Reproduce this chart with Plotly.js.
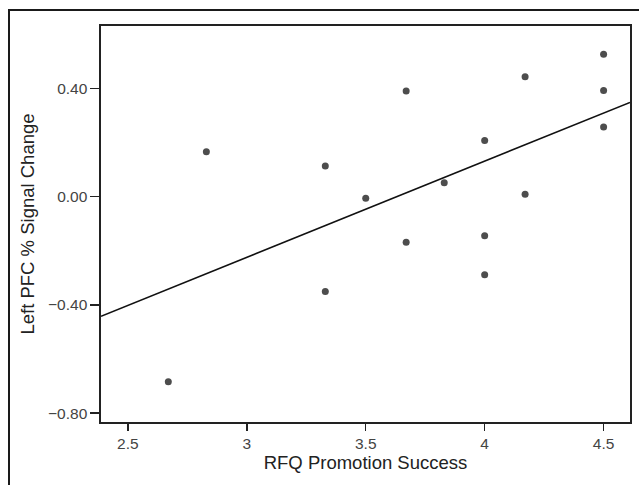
<!DOCTYPE html>
<html>
<head>
<meta charset="utf-8">
<script src="https://cdn.plot.ly/plotly-3.0.1.min.js"></script>
<style>
  html, body { margin: 0; padding: 0; background: #fff; }
  #wrap { position: relative; width: 639px; height: 485px; overflow: hidden; }
  #chart { position: absolute; left: 0; top: 0; width: 639px; height: 485px; }
  #frame { position: absolute; left: 8px; top: 9px; width: 700px; height: 600px;
           border-left: 2px solid #1a1a1a; border-top: 2px solid #1a1a1a; pointer-events: none; }
</style>
</head>
<body>
<div id="wrap">
  <div id="chart"></div>
  <div id="frame"></div>
</div>
<script>
// RFQ Promotion Success (x) vs Left PFC % Signal Change (y)
const promotionSuccess = [2.67, 2.83, 3.33, 3.33, 3.50, 3.67, 3.67, 3.83, 4.00, 4.00, 4.00, 4.17, 4.17, 4.50, 4.50, 4.50];
const signalChange     = [-0.684, 0.166, 0.114, -0.350, -0.006, 0.391, -0.168, 0.052, 0.208, -0.144, -0.288, 0.443, 0.009, 0.527, 0.393, 0.258];
const xTickVals = [2.5, 3, 3.5, 4, 4.5];
const yTickVals = [-0.8, -0.4, 0.0, 0.4];
const xRange = [2.387, 4.611];
const yRange = [-0.8325, 0.631];

// least-squares fit line computed from the data
const n = promotionSuccess.length;
const mx = promotionSuccess.reduce((a, b) => a + b, 0) / n;
const my = signalChange.reduce((a, b) => a + b, 0) / n;
let sxy = 0, sxx = 0;
for (let i = 0; i < n; i++) {
  sxy += (promotionSuccess[i] - mx) * (signalChange[i] - my);
  sxx += (promotionSuccess[i] - mx) ** 2;
}
const slope = sxy / sxx;
const intercept = my - slope * mx;
const fitX = xRange.slice();
const fitY = fitX.map(x => intercept + slope * x);

const font = 'Liberation Sans, Arial, Helvetica, sans-serif';

const traces = [
  {
    x: fitX, y: fitY, type: 'scatter', mode: 'lines',
    line: { color: '#111', width: 1.6 }, hoverinfo: 'skip', cliponaxis: true
  },
  {
    x: promotionSuccess, y: signalChange, type: 'scatter', mode: 'markers',
    marker: { size: 7, color: '#4d4d4d' }
  }
];

const layout = {
  width: 639, height: 485,
  margin: { l: 101, r: 9, t: 26, b: 63 },
  paper_bgcolor: 'rgba(0,0,0,0)', plot_bgcolor: '#fff',
  showlegend: false,
  font: { family: font, color: '#333', size: 15 },
  xaxis: {
    range: xRange, tickvals: xTickVals, ticks: 'outside', ticklen: 7, tickwidth: 1.5, tickcolor: '#222',
    showline: true, mirror: true, linecolor: '#222', linewidth: 1.6,
    showgrid: false, zeroline: false,
    tickfont: { size: 15.5, color: '#444' },
    title: { text: 'RFQ Promotion Success', font: { size: 18.5, color: '#222' }, standoff: 4 }
  },
  yaxis: {
    range: yRange, tickvals: yTickVals, tickformat: '.2f', ticks: 'outside', ticklen: 9, tickwidth: 1.5, tickcolor: '#222',
    showline: true, mirror: true, linecolor: '#222', linewidth: 1.6,
    showgrid: false, zeroline: false,
    tickfont: { size: 15.5, color: '#444' },
    title: { text: 'Left PFC % Signal Change', font: { size: 18.5, color: '#222' }, standoff: 8 }
  }
};

Plotly.newPlot('chart', traces, layout, { staticPlot: true, displayModeBar: false });
</script>
</body>
</html>
